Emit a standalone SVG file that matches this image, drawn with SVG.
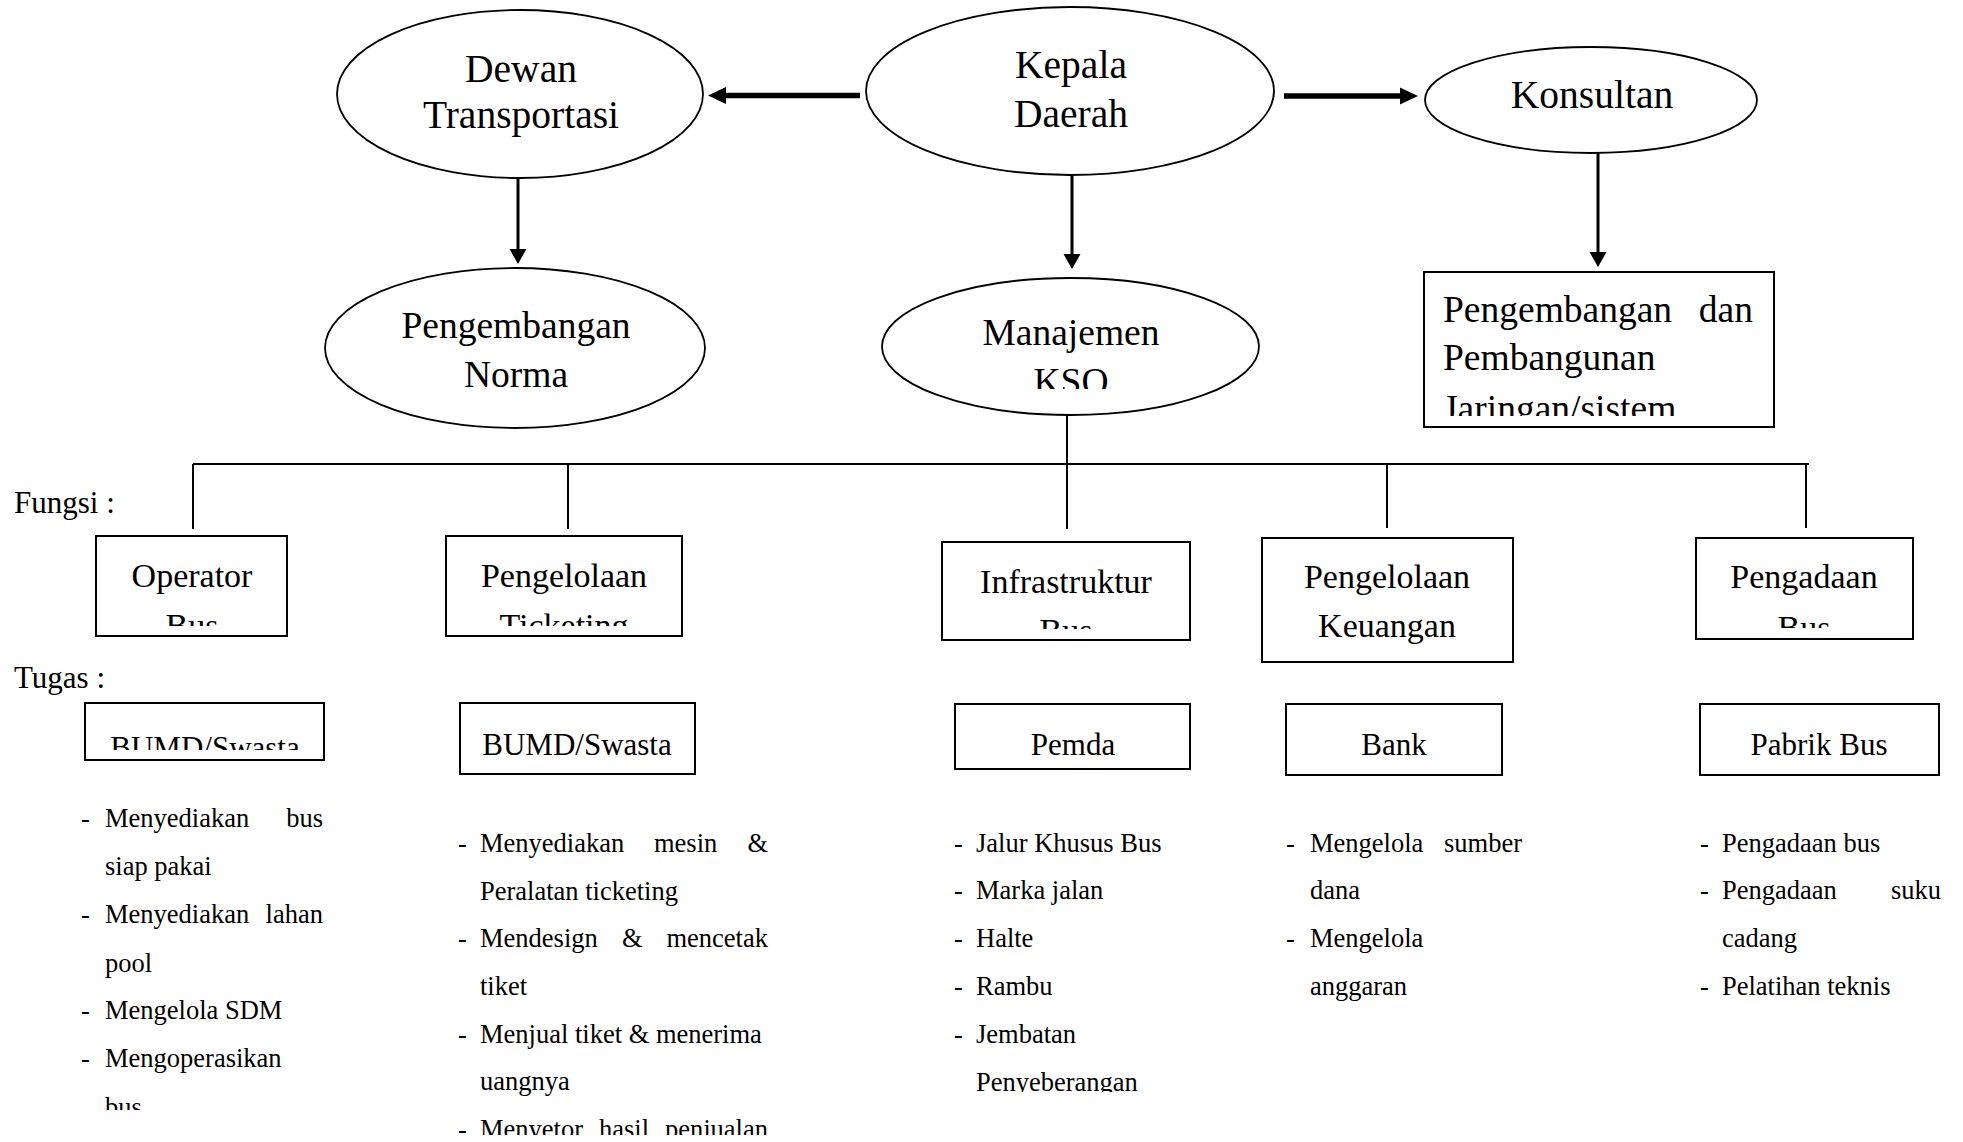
<svg xmlns="http://www.w3.org/2000/svg" width="1963" height="1142" viewBox="0 0 1963 1142">
<style>
text{font-family:"Liberation Serif","Times New Roman",serif;fill:#000}
.e{fill:#fff;stroke:#000;stroke-width:1.8}
.b{fill:#fff;stroke:#000;stroke-width:2}
.big{font-size:39.5px;text-anchor:middle}
.mid{font-size:37.5px;text-anchor:middle}
.bx{font-size:34px;text-anchor:middle}
.bt{font-size:31px;text-anchor:middle}
.lbl{font-size:31px}
.li{font-size:26.5px}
.end{text-anchor:end}
.thick{stroke:#000;stroke-width:5.5;fill:none}
.thin{stroke:#000;stroke-width:3;fill:none}
.ln{stroke:#000;stroke-width:2;fill:none}
</style>
<defs>
<marker id="ah" markerUnits="userSpaceOnUse" markerWidth="18" markerHeight="18" refX="0" refY="9" orient="auto"><path d="M0,0.5 L18,9 L0,17.5 z" fill="#000"/></marker>
<marker id="ahs" markerUnits="userSpaceOnUse" markerWidth="16" markerHeight="18" refX="0" refY="9" orient="auto"><path d="M0,0.5 L15,9 L0,17.5 z" fill="#000"/></marker>
<clipPath id="cKSO"><rect x="900" y="300" width="340" height="89"/></clipPath>
<clipPath id="cJar"><rect x="1425" y="274" width="348" height="142"/></clipPath>
<clipPath id="cOp"><rect x="97" y="537" width="189" height="89"/></clipPath>
<clipPath id="cTk"><rect x="447" y="537" width="234" height="89"/></clipPath>
<clipPath id="cIn"><rect x="943" y="543" width="246" height="86"/></clipPath>
<clipPath id="cPg"><rect x="1697" y="539" width="215" height="89"/></clipPath>
<clipPath id="cBU"><rect x="86" y="704" width="237" height="46"/></clipPath>
<clipPath id="cL1"><rect x="0" y="1080" width="400" height="30"/></clipPath>
<clipPath id="cL2"><rect x="400" y="1100" width="400" height="35"/></clipPath>
<clipPath id="cL3"><rect x="940" y="1060" width="300" height="32"/></clipPath>
</defs>

<g id="connectors">
<line class="thick" x1="860" y1="95.5" x2="726" y2="95.5" marker-end="url(#ah)"/>
<line class="thick" x1="1284" y1="96" x2="1400" y2="96" marker-end="url(#ah)"/>
<line class="thin" x1="518" y1="179" x2="518" y2="249" marker-end="url(#ahs)"/>
<line class="thin" x1="1072" y1="176" x2="1072" y2="254" marker-end="url(#ahs)"/>
<line class="thin" x1="1598" y1="153" x2="1598" y2="252" marker-end="url(#ahs)"/>
<line class="ln" x1="1067" y1="415" x2="1067" y2="529"/>
<line class="ln" x1="193" y1="464" x2="1809" y2="464"/>
<line class="ln" x1="193" y1="464" x2="193" y2="529"/>
<line class="ln" x1="568" y1="464" x2="568" y2="529"/>
<line class="ln" x1="1387" y1="464" x2="1387" y2="528"/>
<line class="ln" x1="1806" y1="464" x2="1806" y2="528"/>
</g>

<g id="dewan">
<ellipse class="e" cx="520" cy="94" rx="183" ry="84"/>
<text class="big" x="521" y="82">Dewan</text>
<text class="big" x="521" y="128">Transportasi</text>
</g>
<g id="kepala">
<ellipse class="e" cx="1070" cy="91" rx="204" ry="84"/>
<text class="big" x="1071" y="78">Kepala</text>
<text class="big" x="1071" y="127">Daerah</text>
</g>
<g id="konsultan">
<ellipse class="e" cx="1591" cy="100" rx="166" ry="53"/>
<text class="big" x="1592" y="108">Konsultan</text>
</g>
<g id="norma">
<ellipse class="e" cx="515" cy="348" rx="190" ry="80"/>
<text class="mid" x="516" y="338">Pengembangan</text>
<text class="mid" x="516" y="387">Norma</text>
</g>
<g id="manajemen">
<ellipse class="e" cx="1070.5" cy="346.5" rx="188.5" ry="68.5"/>
<text class="mid" x="1071" y="345">Manajemen</text>
<text class="mid" x="1071" y="394" clip-path="url(#cKSO)">KSO</text>
</g>
<g id="jaringan">
<rect class="b" x="1424" y="272" width="350" height="155"/>
<text class="mid" style="text-anchor:start" x="1443" y="322">Pengembangan</text>
<text class="mid" style="text-anchor:end" x="1753" y="322">dan</text>
<text class="mid" style="text-anchor:start" x="1443" y="370">Pembangunan</text>
<text class="mid" style="text-anchor:start" x="1443" y="421" clip-path="url(#cJar)">Jaringan/sistem</text>
</g>

<text class="lbl" x="14" y="513">Fungsi :</text>
<text class="lbl" x="14" y="688">Tugas :</text>

<g id="operator">
<rect class="b" x="96" y="536" width="191" height="100"/>
<text class="bx" x="192" y="587">Operator</text>
<text class="bx" x="192" y="637" clip-path="url(#cOp)">Bus</text>
</g>
<g id="ticketing">
<rect class="b" x="446" y="536" width="236" height="100"/>
<text class="bx" x="564" y="587">Pengelolaan</text>
<text class="bx" x="564" y="637" clip-path="url(#cTk)">Ticketing</text>
</g>
<g id="infrastruktur">
<rect class="b" x="942" y="542" width="248" height="98"/>
<text class="bx" x="1066" y="593">Infrastruktur</text>
<text class="bx" x="1066" y="642" clip-path="url(#cIn)">Bus</text>
</g>
<g id="keuangan">
<rect class="b" x="1262" y="538" width="251" height="124"/>
<text class="bx" x="1387" y="588">Pengelolaan</text>
<text class="bx" x="1387" y="637">Keuangan</text>
</g>
<g id="pengadaan">
<rect class="b" x="1696" y="538" width="217" height="101"/>
<text class="bx" x="1804" y="588">Pengadaan</text>
<text class="bx" x="1804" y="639" clip-path="url(#cPg)">Bus</text>
</g>

<g id="bumd1">
<rect class="b" x="85" y="703" width="239" height="57"/>
<text class="bt" x="205" y="758" clip-path="url(#cBU)">BUMD/Swasta</text>
</g>
<g id="bumd2">
<rect class="b" x="460" y="703" width="235" height="71"/>
<text class="bt" x="577" y="755">BUMD/Swasta</text>
</g>
<g id="pemda">
<rect class="b" x="955" y="704" width="235" height="65"/>
<text class="bt" x="1073" y="755">Pemda</text>
</g>
<g id="bank">
<rect class="b" x="1286" y="704" width="216" height="71"/>
<text class="bt" x="1394" y="755">Bank</text>
</g>
<g id="pabrik">
<rect class="b" x="1700" y="704" width="239" height="71"/>
<text class="bt" x="1819" y="755">Pabrik Bus</text>
</g>

<g id="tugas-operator" class="li">
<text x="81" y="827">-</text><text x="105" y="827">Menyediakan</text><text class="end" x="323" y="827">bus</text>
<text x="105" y="875">siap pakai</text>
<text x="81" y="923">-</text><text x="105" y="923">Menyediakan</text><text class="end" x="323" y="923">lahan</text>
<text x="105" y="972">pool</text>
<text x="81" y="1019">-</text><text x="105" y="1019">Mengelola SDM</text>
<text x="81" y="1067">-</text><text x="105" y="1067">Mengoperasikan</text>
<text x="105" y="1116" clip-path="url(#cL1)">bus</text>
</g>
<g id="tugas-ticketing" class="li">
<text x="458" y="852">-</text><text x="480" y="852">Menyediakan</text><text x="654" y="852">mesin</text><text class="end" x="768" y="852">&amp;</text>
<text x="480" y="900">Peralatan ticketing</text>
<text x="458" y="947">-</text><text x="480" y="947">Mendesign</text><text x="622" y="947">&amp;</text><text class="end" x="768" y="947">mencetak</text>
<text x="480" y="995">tiket</text>
<text x="458" y="1043">-</text><text x="480" y="1043">Menjual tiket &amp; menerima</text>
<text x="480" y="1090">uangnya</text>
<g clip-path="url(#cL2)"><text x="458" y="1138">-</text><text x="480" y="1138">Menyetor</text><text x="599" y="1138">hasil</text><text class="end" x="768" y="1138">penjualan</text></g>
</g>
<g id="tugas-infra" class="li">
<text x="954" y="852">-</text><text x="976" y="852">Jalur Khusus Bus</text>
<text x="954" y="899">-</text><text x="976" y="899">Marka jalan</text>
<text x="954" y="947">-</text><text x="976" y="947">Halte</text>
<text x="954" y="995">-</text><text x="976" y="995">Rambu</text>
<text x="954" y="1043">-</text><text x="976" y="1043">Jembatan</text>
<text x="976" y="1091" clip-path="url(#cL3)">Penyeberangan</text>
</g>
<g id="tugas-keuangan" class="li">
<text x="1286" y="852">-</text><text x="1310" y="852">Mengelola</text><text class="end" x="1522" y="852">sumber</text>
<text x="1310" y="899">dana</text>
<text x="1286" y="947">-</text><text x="1310" y="947">Mengelola</text>
<text x="1310" y="995">anggaran</text>
</g>
<g id="tugas-pengadaan" class="li">
<text x="1700" y="852">-</text><text x="1722" y="852">Pengadaan bus</text>
<text x="1700" y="899">-</text><text x="1722" y="899">Pengadaan</text><text class="end" x="1941" y="899">suku</text>
<text x="1722" y="947">cadang</text>
<text x="1700" y="995">-</text><text x="1722" y="995">Pelatihan teknis</text>
</g>
</svg>
